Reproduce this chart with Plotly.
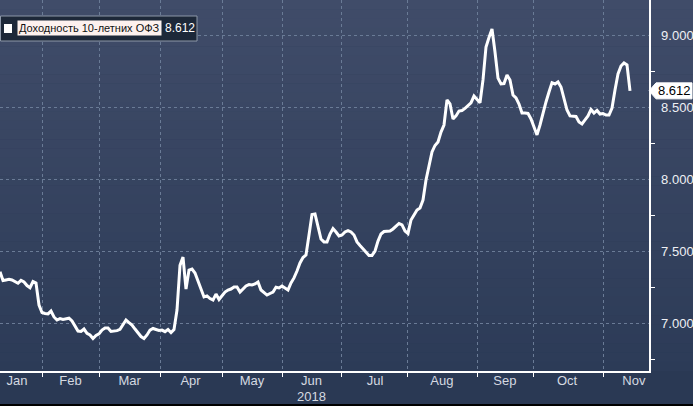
import plotly.graph_objects as go

# ---------------- data ----------------
series_name = "Доходность 10-летних ОФЗ"
last_value_label = "8.612"

# trading-day index (Jan .. early Nov 2018)
day = list(range(211))
yield_pct = [
    7.356, 7.295, 7.299, 7.303, 7.299, 7.285, 7.276, 7.296, 7.285, 7.260,
    7.245, 7.288, 7.278, 7.125, 7.073, 7.066, 7.063, 7.083, 7.042, 7.021,
    7.031, 7.024, 7.028, 7.033, 7.014, 6.979, 6.944, 6.941, 6.958, 6.928,
    6.917, 6.892, 6.913, 6.924, 6.951, 6.965, 6.965, 6.941, 6.944, 6.947,
    6.956, 6.993, 7.021, 7.003, 6.986, 6.958, 6.931, 6.906, 6.892, 6.917,
    6.951, 6.962, 6.955, 6.948, 6.951, 6.940, 6.955, 6.934, 6.955, 7.090,
    7.400, 7.458, 7.236, 7.368, 7.375, 7.347, 7.292, 7.229, 7.181, 7.188,
    7.170, 7.160, 7.201, 7.163, 7.188, 7.215, 7.229, 7.236, 7.250, 7.250,
    7.215, 7.236, 7.257, 7.267, 7.264, 7.271, 7.285, 7.229, 7.208, 7.194,
    7.205, 7.215, 7.248, 7.243, 7.257, 7.243, 7.229, 7.278, 7.313, 7.361,
    7.417, 7.455, 7.472, 7.611, 7.753, 7.757, 7.660, 7.583, 7.563, 7.563,
    7.618, 7.656, 7.632, 7.604, 7.611, 7.632, 7.642, 7.632, 7.611, 7.563,
    7.538, 7.514, 7.493, 7.469, 7.469, 7.500, 7.569, 7.618, 7.635, 7.635,
    7.639, 7.653, 7.674, 7.691, 7.681, 7.639, 7.622, 7.715, 7.750, 7.785,
    7.799, 7.854, 7.993, 8.083, 8.188, 8.233, 8.257, 8.326, 8.375, 8.549,
    8.521, 8.417, 8.438, 8.472, 8.476, 8.490, 8.510, 8.528, 8.576, 8.549,
    8.530, 8.688, 8.917, 8.983, 9.042, 8.882, 8.701, 8.660, 8.663, 8.722,
    8.688, 8.583, 8.563, 8.521, 8.458, 8.458, 8.455, 8.417, 8.363, 8.306,
    8.375, 8.465, 8.535, 8.604, 8.669, 8.660, 8.674, 8.639, 8.556, 8.479,
    8.438, 8.438, 8.434, 8.396, 8.382, 8.410, 8.438, 8.483, 8.458, 8.476,
    8.451, 8.455, 8.444, 8.444, 8.493, 8.618, 8.729, 8.785, 8.806, 8.792,
    8.612,
]

# month boundaries (trading-day index) and month label centres
month_bounds = [14, 33, 53.5, 74, 94, 113.7, 135.7, 159, 177.7, 201]
month_centres = [5.7, 23.5, 43.2, 63.5, 84, 103.8, 125, 147.3, 168.3, 189, 211.3]
month_labels = ["Jan", "Feb", "Mar", "Apr", "May", "Jun", "Jul", "Aug", "Sep", "Oct", "Nov"]
year_label = "2018"

y_major = [7.0, 7.5, 8.0, 8.5, 9.0]
y_major_text = ["7.000", "7.500", "8.000", "8.500", "9.000"]

# ---------------- layout geometry ----------------
W, H = 693, 406
ML, MR, MT, MB = 0, 44, 0, 35
PW = W - ML - MR          # plot width in px
PH = H - MT - MB          # plot height in px
x_range = [0, PW / 3.0]
y_range = [7.0 - 48 / 144.0, 7.0 + 323 / 144.0]

def px_to_paper_x(px):
    return (px - ML) / PW

def px_to_paper_y(py):
    return (H - MB - py) / PH

fig = go.Figure()

fig.add_trace(go.Scatter(
    x=day, y=yield_pct, mode="lines",
    line=dict(color="#ffffff", width=3),
    hoverinfo="skip", showlegend=False,
))

# triangle markers on right axis at major ticks
fig.add_trace(go.Scatter(
    x=[x_range[1] + 1.35] * len(y_major), y=y_major, mode="markers",
    marker=dict(symbol="triangle-right", size=8, color="#ffffff", line=dict(width=0)),
    cliponaxis=False, hoverinfo="skip", showlegend=False,
))

# month labels on an overlaying axis
fig.add_trace(go.Scatter(x=[month_centres[0]], y=[y_range[0]], xaxis="x2",
                         mode="markers", marker=dict(opacity=0), hoverinfo="skip",
                         showlegend=False))

shapes = []
# vertical gradient background (top lighter, bottom darker)
top = (0x40, 0x4c, 0x69)
bot = (0x2c, 0x3b, 0x57)
n = 40
for k in range(n):
    t0 = k / n
    t1 = (k + 1) / n
    tm = (t0 + t1) / 2
    c = tuple(round(top[j] + (bot[j] - top[j]) * tm) for j in range(3))
    shapes.append(dict(
        type="rect", xref="paper", yref="paper", layer="below",
        x0=0, x1=W / PW, y0=1 - t1 - 0.001, y1=1 - t0,
        fillcolor="rgb(%d,%d,%d)" % c, line=dict(width=0),
    ))
# bottom paper strip
shapes.append(dict(type="rect", xref="paper", yref="paper", layer="below",
                   x0=0, x1=W / PW, y0=px_to_paper_y(H), y1=0,
                   fillcolor="#2a3954", line=dict(width=0)))
shapes.append(dict(type="rect", xref="paper", yref="paper", layer="above",
                   x0=0, x1=W / PW, y0=px_to_paper_y(H), y1=px_to_paper_y(H - 2),
                   fillcolor="#000000", line=dict(width=0)))

# legend box
shapes.append(dict(type="rect", xref="paper", yref="paper", layer="above",
                   x0=px_to_paper_x(0.5), x1=px_to_paper_x(197),
                   y0=px_to_paper_y(41), y1=px_to_paper_y(16),
                   fillcolor="#1d2839", line=dict(color="#8d97a8", width=1)))
shapes.append(dict(type="rect", xref="paper", yref="paper", layer="above",
                   x0=px_to_paper_x(4), x1=px_to_paper_x(12),
                   y0=px_to_paper_y(33), y1=px_to_paper_y(24),
                   fillcolor="#ffffff", line=dict(width=0)))

# last value tag on right axis
last_v = yield_pct[-1]
ty = 323 - (last_v - 7.0) * 144
x_a = px_to_paper_x(649)
x_b = px_to_paper_x(656)
x_c = px_to_paper_x(692)
y_t = px_to_paper_y(ty - 8)
y_m = px_to_paper_y(ty)
y_b = px_to_paper_y(ty + 8)
shapes.append(dict(type="path", xref="paper", yref="paper", layer="above",
                   path=f"M {x_a} {y_m} L {x_b} {y_t} L {x_c} {y_t} L {x_c} {y_b} L {x_b} {y_b} Z",
                   fillcolor="#ffffff", line=dict(color="#ffffff", width=1)))

annotations = [
    dict(text=series_name, xref="paper", yref="paper",
         x=px_to_paper_x(17), y=px_to_paper_y(28.5), xanchor="left", yanchor="middle",
         showarrow=False, bgcolor="#fdf1ee", borderpad=1,
         font=dict(family="Liberation Sans, Arial, sans-serif", size=11, color="#111111")),
    dict(text=last_value_label, xref="paper", yref="paper",
         x=px_to_paper_x(163), y=px_to_paper_y(28.5), xanchor="left", yanchor="middle",
         showarrow=False,
         font=dict(family="Liberation Sans, Arial, sans-serif", size=12, color="#ffffff")),
    dict(text=last_value_label, xref="paper", yref="paper",
         x=px_to_paper_x(674), y=y_m, xanchor="center", yanchor="middle",
         showarrow=False,
         font=dict(family="Liberation Sans, Arial, sans-serif", size=13, color="#000000")),
    dict(text=year_label, xref="x", yref="paper",
         x=month_centres[5], y=px_to_paper_y(396), xanchor="center", yanchor="middle",
         showarrow=False,
         font=dict(family="Liberation Sans Narrow, Arial Narrow, sans-serif", size=13, color="#d5d9e1")),
]

fig.update_layout(
    width=W, height=H,
    margin=dict(l=ML, r=MR, t=MT, b=MB, pad=0),
    paper_bgcolor="#2a3954",
    plot_bgcolor="rgba(0,0,0,0)",
    showlegend=False,
    shapes=shapes,
    annotations=annotations,
    xaxis=dict(
        range=x_range, tickmode="array", tickvals=month_bounds, showticklabels=False,
        ticks="outside", ticklen=4, tickcolor="#ffffff", tickwidth=1,
        showline=True, linecolor="#ffffff", linewidth=1.5,
        showgrid=True, gridcolor="#6a7b96", griddash="3px,3px", gridwidth=1,
        zeroline=False, fixedrange=True,
    ),
    xaxis2=dict(
        range=x_range, overlaying="x", side="bottom", anchor="y",
        tickmode="array", tickvals=month_centres, ticktext=month_labels,
        ticks="", showgrid=False, showline=False, zeroline=False, fixedrange=True,
        tickfont=dict(family="Liberation Sans Narrow, Arial Narrow, sans-serif", size=13, color="#d5d9e1"),
    ),
    yaxis=dict(
        range=y_range, side="right", tickmode="array", tickvals=y_major, ticktext=y_major_text,
        ticks="outside", ticklen=8, tickcolor="rgba(0,0,0,0)",
        minor=dict(tickmode="array", tickvals=[6.75, 7.25, 7.75, 8.25, 8.75],
                   ticks="outside", ticklen=4, tickcolor="#ffffff", showgrid=False),
        showline=True, linecolor="#ffffff", linewidth=1.5,
        showgrid=True, gridcolor="#6a7b96", griddash="3px,3px", gridwidth=1,
        zeroline=False, fixedrange=True,
        tickfont=dict(family="Liberation Sans, Arial, sans-serif", size=13, color="#eef0f4"),
    ),
)

fig.write_html(
    "out.html",
    config={"displayModeBar": False, "staticPlot": True},
    post_script="document.body.style.margin='0';document.body.style.overflow='hidden';",
)
